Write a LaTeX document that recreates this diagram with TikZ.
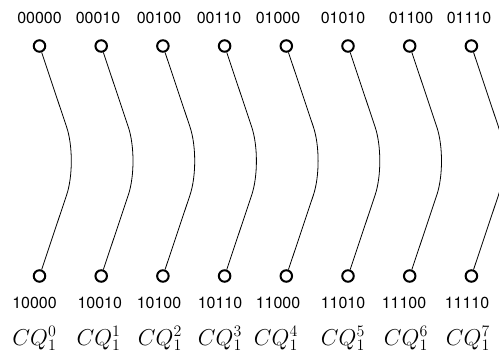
\documentclass[tikz,border=0pt]{standalone}
\usepackage{fontspec}
\newfontfamily\labelfont{TeX Gyre Heros}
\newcommand\qlabel[1]{\scalebox{1.33}{\LARGE$CQ_1^{#1}$}}
\tikzset{
  port/.style={circle, draw, line width=2pt, minimum size=11.5pt, inner sep=0pt},
  code/.style={font=\labelfont\fontsize{16}{18}\selectfont, inner sep=0pt},
  qname/.style={inner sep=0pt, anchor=base},
  link/.style={line width=0.8pt, rounded corners=36pt}
}
\begin{document}
\begin{tikzpicture}[x=1pt, y=-1pt]
  \useasboundingbox (0,0) rectangle (499,353);
  % column index / top code / bottom code / top label x / bottom label x / name x
  \foreach \i/\up/\dn/\ux/\dx/\qx in {
      0/00000/10000/39.5/34.5/34.5,
      1/00010/10010/98/99.8/98.7,
      2/00100/10100/159/159/160,
      3/00110/10110/219/220/220,
      4/01000/11000/278/278/276,
      5/01010/11010/343/343/343,
      6/01100/11100/411/404/406,
      7/01110/11110/469/467/468} {
    \pgfmathsetmacro\cx{39.5+61.7*\i}
    \node[port] (t\i) at (\cx,46) {};
    \node[port] (b\i) at (\cx,276) {};
    \coordinate (m\i) at (\cx+38.5,161);
    \node[code] (tl\i) at (\ux,17.5) {\up};
    \node[code] (bl\i) at (\dx,303) {\dn};
    \node[qname] (q\i) at (\qx,345) {\qlabel{\i}};
    \draw[link] (t\i) -- (m\i) -- (b\i);
  }
\end{tikzpicture}
\end{document}
